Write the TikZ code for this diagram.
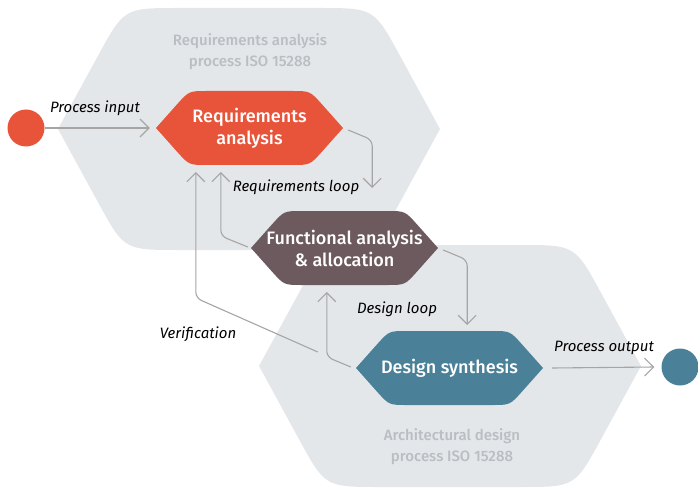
\documentclass[tikz,border=0pt]{standalone}
\usepackage{fontspec}
\setmainfont{Fira Sans}
\newfontfamily\stagefont{Fira Sans Medium}
\usetikzlibrary{arrows.meta}

\definecolor{reqred}{HTML}{E8543A}
\definecolor{funbrown}{HTML}{6D5A5E}
\definecolor{synteal}{HTML}{4A8199}
\definecolor{zonegrey}{HTML}{E4E7EA}
\definecolor{zonetext}{HTML}{B9BEC3}
\definecolor{flowgrey}{HTML}{A5A5A5}

\tikzset{
  % large background process areas
  zone/.pic={
    \fill[zonegrey] (-191,0) -- (-151.3,-72.7) .. controls (-125,-121) .. (-70,-121)
      -- (70,-121) .. controls (125,-121) .. (151.3,-72.7) -- (191,0)
      -- (151.3,72.7) .. controls (125,121) .. (70,121)
      -- (-70,121) .. controls (-125,121) .. (-151.3,72.7) -- cycle;
  },
  % coloured hexagon behind each stage
  stagehex/.pic={
    \fill[#1] (-93.5,0) -- (-72.5,-23.6) .. controls (-60.5,-37) .. (-42.5,-37)
      -- (42.5,-37) .. controls (60.5,-37) .. (72.5,-23.6) -- (93.5,0)
      -- (72.5,23.6) .. controls (60.5,37) .. (42.5,37)
      -- (-42.5,37) .. controls (-60.5,37) .. (-72.5,23.6) -- cycle;
  },
  stage/.style={minimum width=187pt, minimum height=74pt, inner sep=0pt,
    align=center, text=white, font=\stagefont\fontsize{18}{22}\selectfont},
  port/.style={circle, minimum size=37pt, inner sep=0pt, fill=#1},
  flow/.style={draw=flowgrey, line width=1.1pt, rounded corners=6pt,
    -{Straight Barb[length=9pt,width=18pt,line width=1.1pt]}},
  looplabel/.style={font=\itshape\fontsize{15}{18}\selectfont},
  zonelabel/.style={text=zonetext, align=center,
    font=\stagefont\fontsize{15}{21}\selectfont}
}

\begin{document}
\begin{tikzpicture}[x=1pt, y=-1pt]
  \useasboundingbox (0,0) rectangle (698,489);

  \pic at (249,129) {zone};
  \pic at (450,366) {zone};
  \node[zonelabel] (reqzone) at (250,52) {Requirements analysis\\process ISO 15288};
  \node[zonelabel] (archzone) at (452,447) {Architectural design\\process ISO 15288};

  \node[port=reqred] (in) at (26,128) {};
  \node[port=synteal] (out) at (680,367) {};

  \pic at (249.5,128) {stagehex=reqred};
  \pic at (344.5,248) {stagehex=funbrown};
  \pic at (449.5,368) {stagehex=synteal};
  \node[stage] (req) at (249.5,128) {Requirements\\analysis};
  \node[stage] (fun) at (344.5,248) {Functional analysis\\\& allocation};
  \node[stage] (syn) at (449.5,368) {Design synthesis};

  \draw[flow] (in) -- ([xshift=-6pt]req.west);
  \draw[flow] ([xshift=5pt,yshift=-2pt]req.east) -- ++(24,10) -- ++(0,48);
  \draw[flow] ([xshift=-3pt,yshift=1pt]fun.west) -- ++(-27,-11) -- ++(0,-64);
  \draw[flow] ([xshift=-38pt,yshift=16pt]syn.west) -- ++(-122,-54) -- ++(0,-126);
  \draw[flow] ([xshift=5pt,yshift=-2pt]fun.east) -- ++(24,10) -- ++(0,65);
  \draw[flow] ([xshift=-5pt,yshift=1pt]syn.west) -- ++(-24,-10) -- ++(0,-65);
  \draw[flow] ([xshift=9pt]syn.east) -- ([xshift=-7pt]out.west);

  \node[looplabel] (inlabel) at (95,108) {Process input};
  \node[looplabel] (reqloop) at (296,187) {Requirements loop};
  \node[looplabel] (verif) at (198,334) {Verification};
  \node[looplabel] (designloop) at (397,309) {Design loop};
  \node[looplabel] (outlabel) at (604,348) {Process output};
\end{tikzpicture}
\end{document}
